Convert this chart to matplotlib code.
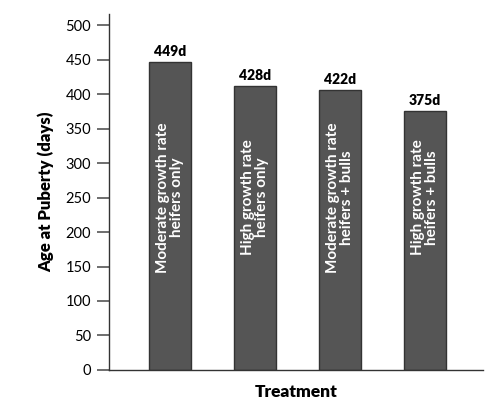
import numpy as np
import matplotlib
matplotlib.use("Agg")
import matplotlib.pyplot as plt

plt.rcParams['font.family'] = ['Lato', 'DejaVu Sans']

# bar heights as drawn, and the printed labels above them
treatments = ["Moderate growth rate\nheifers only",
              "High growth rate\nheifers only",
              "Moderate growth rate\nheifers + bulls",
              "High growth rate\nheifers + bulls"]
heights = [447, 412, 406, 375]
value_labels = ["449d", "428d", "422d", "375d"]
yticks = [0, 50, 100, 150, 200, 250, 300, 350, 400, 450, 500]


def draw():
	fig = plt.figure(figsize=(5.0, 4.03), dpi=100)
	ax = fig.add_axes([0.218, 0.082, 0.748, 0.883])

	x = np.arange(len(heights))
	ax.bar(x, heights, 0.49, color='#555555', edgecolor='#333333', linewidth=1.0)

	for xi, h, lab in zip(x, heights, value_labels):
		ax.text(xi, h + 6, lab, ha='center', va='bottom', fontsize=10,
				fontweight='heavy', color='black')
	for xi, t in zip(x, treatments):
		ax.text(xi, 250, t, ha='center', va='center', rotation=90,
				fontsize=11, fontweight='bold', color='white', linespacing=0.95)

	ax.set_xlim(-0.72, 3.68)
	ax.set_ylim(0, 516)
	ax.set_yticks(yticks)
	ax.set_xticks([])
	ax.tick_params(axis='y', direction='out', length=9, width=1.2, color='#555555',
				   labelsize=10.5, pad=4)
	for sp in ['top', 'right']:
		ax.spines[sp].set_visible(False)
	ax.spines['left'].set_color('#333333')
	ax.spines['bottom'].set_color('#333333')
	ax.spines['left'].set_linewidth(1.0)
	ax.spines['bottom'].set_linewidth(1.0)

	ax.set_ylabel("Age at Puberty (days)", fontsize=12, fontweight='heavy', labelpad=8)
	ax.set_xlabel("Treatment", fontsize=12.5, fontweight='heavy', labelpad=10)

	fig.savefig("out.png", dpi=100)


draw()
